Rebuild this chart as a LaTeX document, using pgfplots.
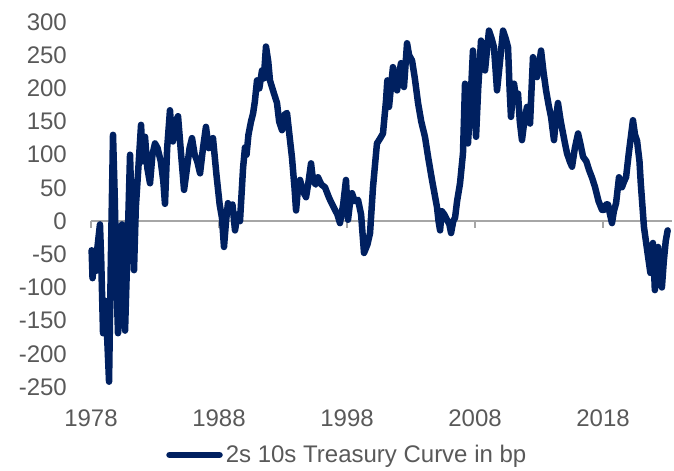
\documentclass[border=0pt]{standalone}
\usepackage{pgfplots}
\pgfplotsset{compat=1.18}
\usepackage{fontspec}
\setmainfont{Liberation Sans}
\definecolor{navy}{HTML}{002060}
\definecolor{txtgray}{HTML}{595959}
\definecolor{axgray}{HTML}{A6A6A6}
% x = years since 1978
\begin{document}
\begin{tikzpicture}
\useasboundingbox (0,0) rectangle (674bp,471bp);
\begin{axis}[
  at={(91bp,84bp)}, anchor=south west,
  scale only axis, width=581bp, height=365bp,
  xmin=0, xmax=45.39, ymin=-250, ymax=300,
  clip=false,
  axis x line*=bottom, axis y line*=left,
  x axis line style={draw=none}, y axis line style={draw=none},
  xtick={0,10,20,30,40},
  xticklabels={1978,1988,1998,2008,2018},
  ytick={-250,-200,-150,-100,-50,0,50,100,150,200,250,300},
  yticklabels={-250,-200,-150,-100,-50,0,50,100,150,200,250,300},
  major tick length=0pt,
  tick style={draw=none},
  ticklabel style={font=\fontsize{24bp}{28bp}\selectfont, text=txtgray, inner sep=0pt},
  yticklabel style={anchor=east, xshift=-24bp},
  xticklabel style={anchor=north, yshift=-23bp},
  legend style={at={(0.442,-0.186)}, anchor=center, draw=none, fill=none,
    font=\fontsize{24bp}{28bp}\selectfont, text=txtgray, inner sep=0pt,
    nodes={inner sep=3bp}},
  legend image code/.code={\draw[#1] (0bp,0bp) -- (50bp,0bp);},
]
\addplot[axgray, line width=1.5bp, forget plot] coordinates {(0,0) (45.39,0)};
\addplot[axgray, line width=1.5bp, forget plot, ycomb, mark=none] coordinates {(0,-10.5) (10,-10.5) (20,-10.5) (30,-10.5) (40,-10.5)};
\addplot[navy, line width=6.5bp, line join=round, line cap=round, mark=none] coordinates {
(0.05,-44) (0.12,-86) (0.2,-70) (0.3,-60) (0.4,-75) (0.5,-40) (0.70,-5) (0.8,-60)
(0.94,-169) (1.1,-120) (1.25,-170) (1.41,-242) (1.55,-60) (1.72,130)
(1.85,40) (2.0,-100) (2.11,-169) (2.25,-60) (2.42,-5) (2.55,-80)
(2.66,-165) (2.85,-40) (3.05,100) (3.2,0) (3.36,-74) (3.5,20)
(3.7,80) (3.91,145) (4.05,90) (4.22,127) (4.4,80) (4.61,57)
(4.8,100) (5.0,117) (5.2,110) (5.45,90) (5.65,60) (5.78,26)
(5.95,110) (6.17,167) (6.3,130) (6.4,120) (6.6,150) (6.80,158) (7.0,110)
(7.27,47) (7.5,80) (7.7,110) (7.89,125) (8.1,100) (8.3,90)
(8.52,72) (8.75,110) (8.98,142) (9.2,110) (9.53,125) (9.8,70)
(10.05,25) (10.23,5) (10.39,-39) (10.55,0) (10.70,27) (10.9,15)
(11.05,25) (11.25,-14) (11.45,10) (11.64,0) (11.88,80) (12.03,111) (12.15,100)
(12.3,130) (12.5,150) (12.66,162) (12.8,180) (12.97,212) (13.15,200) (13.36,227) (13.5,215)
(13.67,263) (13.85,240) (13.98,212) (14.25,195) (14.53,178) (14.7,150)
(14.92,137) (15.1,160) (15.31,163) (15.5,130) (15.70,96) (15.9,50)
(16.02,16) (16.15,45) (16.33,62) (16.55,45) (16.80,36) (17.0,60)
(17.19,87) (17.34,62) (17.55,55) (17.73,66) (18.0,55) (18.28,51)
(18.6,35) (18.85,25) (19.06,17) (19.25,10) (19.45,-3) (19.7,25)
(19.92,62) (20.08,2) (20.25,30) (20.39,42) (20.6,30) (20.86,32)
(21.1,10) (21.33,-48) (21.6,-35) (21.80,-18) (22.03,51) (22.34,117)
(22.6,125) (22.81,132) (23.05,182) (23.15,212) (23.28,172) (23.59,232)
(23.75,210) (23.91,197) (24.1,225) (24.22,238) (24.45,202) (24.69,268)
(24.85,250) (25.08,242) (25.3,215) (25.55,178) (25.8,150) (26.09,127)
(26.35,95) (26.64,62) (26.85,40) (27.03,21) (27.15,0) (27.27,-14)
(27.4,15) (27.6,10) (27.81,2) (28.0,-5) (28.13,-18) (28.3,0)
(28.44,5) (28.6,30) (28.83,57) (29.06,102) (29.22,207) (29.35,150)
(29.45,117) (29.65,180) (29.84,257) (29.95,200) (30.08,127) (30.25,200)
(30.47,272) (30.6,250) (30.78,227) (30.95,260) (31.09,287) (31.3,275)
(31.48,262) (31.6,230) (31.72,197) (31.95,240) (32.19,287) (32.4,275)
(32.58,262) (32.7,200) (32.81,157) (32.95,190) (33.05,207) (33.2,185)
(33.36,192) (33.5,150) (33.67,122) (33.85,150) (34.06,172) (34.2,160)
(34.30,147) (34.42,200) (34.53,247) (34.7,230) (34.84,217) (35.0,235)
(35.16,257) (35.35,225) (35.55,197) (35.75,175) (35.94,157) (36.05,140)
(36.17,122) (36.3,150) (36.48,178) (36.7,150) (36.88,132) (37.05,115)
(37.19,102) (37.4,90) (37.58,82) (37.8,110) (38.05,132) (38.25,115)
(38.44,97) (38.7,90) (38.91,77) (39.15,65) (39.38,51) (39.65,30)
(39.92,17) (40.08,17) (40.25,25) (40.39,25) (40.55,10) (40.70,-3)
(40.85,15) (41.02,27) (41.25,66) (41.48,51) (41.65,60) (41.80,66)
(42.0,100) (42.11,117) (42.34,152) (42.5,130) (42.66,121) (42.85,90)
(42.95,57) (43.2,-9) (43.45,-44) (43.7,-78) (43.9,-33) (44.05,-104)
(44.3,-39) (44.45,-80) (44.6,-100) (44.75,-60) (44.9,-30) (45.05,-14)
};
\addlegendentry{2s 10s Treasury Curve in bp}
\end{axis}
\end{tikzpicture}
\end{document}
